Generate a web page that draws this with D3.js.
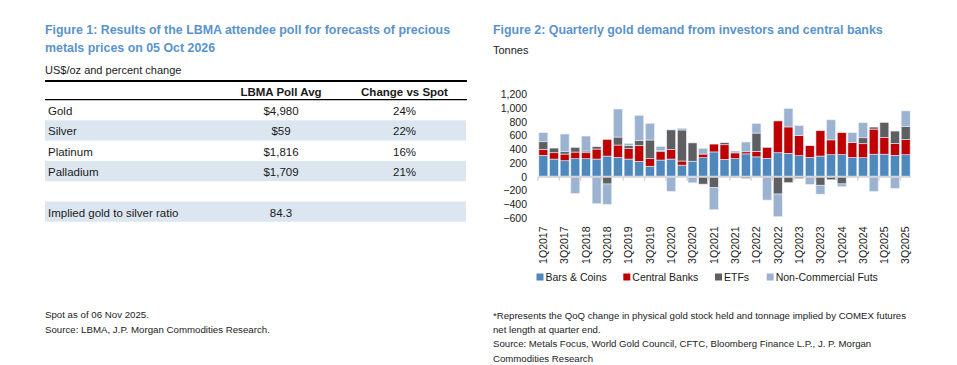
<!DOCTYPE html>
<html><head><meta charset="utf-8">
<script src="https://cdn.jsdelivr.net/npm/d3@7"></script>
<style>
html,body{margin:0;padding:0;background:#fff;}
svg{display:block;font-family:"Liberation Sans",Arial,sans-serif;}
</style></head>
<body><svg id="c" width="957" height="365"></svg>
<script>
// ---------- Figure 1 data ----------
const metals = ["Gold", "Silver", "Platinum", "Palladium"];
const pollAvg = ["$4,980", "$59", "$1,816", "$1,709"];
const changeVsSpot = ["24%", "22%", "16%", "21%"];
const ratioLabel = "Implied gold to silver ratio";
const ratioValue = "84.3";
const tableHeaders = ["", "LBMA Poll Avg", "Change vs Spot"];

// ---------- Figure 2 data ----------
const quarters = ["1Q2017","2Q2017","3Q2017","4Q2017","1Q2018","2Q2018","3Q2018","4Q2018",
  "1Q2019","2Q2019","3Q2019","4Q2019","1Q2020","2Q2020","3Q2020","4Q2020",
  "1Q2021","2Q2021","3Q2021","4Q2021","1Q2022","2Q2022","3Q2022","4Q2022",
  "1Q2023","2Q2023","3Q2023","4Q2023","1Q2024","2Q2024","3Q2024","4Q2024",
  "1Q2025","2Q2025","3Q2025"];
const barsCoins = [310,256,232,261,261,256,300,281,256,223,152,242,256,168,225,276,360,252,263,332,288,266,348,339,305,281,300,319,321,279,276,327,327,310,319];
const centralBanks = [87,92,97,97,87,146,242,179,151,232,110,121,138,60,-10,53,114,212,83,30,80,160,462,384,292,169,368,216,318,215,203,365,242,172,221];
const etfs = [111,68,34,68,25,34,-106,116,43,68,271,19,286,451,266,-108,-160,30,-15,-25,266,0,-252,-87,-27,0,-124,-45,-105,0,87,29,220,181,191];
const nonCommFuts = [131,-15,257,-242,217,-392,-296,407,34,368,242,58,-213,24,-79,82,-319,0,27,142,139,-339,-329,268,146,-111,-129,291,-38,145,218,-213,0,-169,225];
const seriesNames = ["Bars & Coins", "Central Banks", "ETFs", "Non-Commercial Futs"];
const seriesColors = ["#4f88bd", "#c00000", "#5f5f62", "#9bb2d0"];
const yTicks = [-600,-400,-200,0,200,400,600,800,1000,1200];
const xTickLabels = quarters.filter((q, i) => i % 2 === 0);

const svg = d3.select("#c");
const titleColor = "#5a93cb";
const textColor = "#1a1a1a";

// ================= Figure 1 =================
const f1 = svg.append("g");
f1.append("text").attr("x", 45).attr("y", 34).attr("fill", titleColor)
  .attr("font-size", 12.4).attr("font-weight", "bold")
  .text("Figure 1: Results of the LBMA attendee poll for forecasts of precious");
f1.append("text").attr("x", 45).attr("y", 51.5).attr("fill", titleColor)
  .attr("font-size", 12.4).attr("font-weight", "bold")
  .text("metals prices on 05 Oct 2026");
f1.append("text").attr("x", 45).attr("y", 73.5).attr("fill", textColor)
  .attr("font-size", 11).text("US$/oz and percent change");

const tLeft = 45, tRight = 466, rowH = 20.3, firstRowTop = 100;
const colX = [48, 281, 404.5];
const rows = metals.map((m, i) => [m, pollAvg[i], changeVsSpot[i]]);
rows.push(null);
rows.push([ratioLabel, ratioValue, ""]);
rows.forEach((r, i) => {
  const top = firstRowTop + i * rowH;
  if (i % 2 === 1) {
    f1.append("rect").attr("x", tLeft).attr("y", top).attr("width", tRight - tLeft)
      .attr("height", rowH).attr("fill", "#dce6f1");
  }
  if (!r) return;
  r.forEach((v, j) => {
    f1.append("text").attr("x", colX[j]).attr("y", top + 15)
      .attr("text-anchor", j === 0 ? "start" : "middle")
      .attr("font-size", 11.5).attr("fill", textColor).text(v);
  });
});
f1.append("line").attr("x1", tLeft).attr("x2", tRight + 1).attr("y1", 81).attr("y2", 81)
  .attr("stroke", "#000").attr("stroke-width", 1.8);
f1.append("line").attr("x1", tLeft).attr("x2", tRight + 1).attr("y1", 99.7).attr("y2", 99.7)
  .attr("stroke", "#000").attr("stroke-width", 1.2);
tableHeaders.forEach((h, j) => {
  if (!h) return;
  f1.append("text").attr("x", colX[j]).attr("y", 95.5).attr("text-anchor", "middle")
    .attr("font-size", 11.5).attr("font-weight", "bold").attr("fill", textColor).text(h);
});
f1.append("text").attr("x", 45).attr("y", 318.3).attr("font-size", 9.7).attr("fill", "#222")
  .text("Spot as of 06 Nov 2025.");
f1.append("text").attr("x", 45).attr("y", 332.5).attr("font-size", 9.7).attr("fill", "#222")
  .text("Source: LBMA, J.P. Morgan Commodities Research.");

// ================= Figure 2 =================
const f2 = svg.append("g");
f2.append("text").attr("x", 493).attr("y", 34).attr("fill", titleColor)
  .attr("font-size", 12.4).attr("font-weight", "bold")
  .text("Figure 2: Quarterly gold demand from investors and central banks");
f2.append("text").attr("x", 493).attr("y", 54).attr("fill", textColor)
  .attr("font-size", 11).text("Tonnes");

const x = d3.scaleBand().domain(quarters).range([538, 911]).paddingInner(0.16).paddingOuter(0.08);
const y = d3.scaleLinear().domain([-600, 1200]).range([218, 94.1]);

const table = quarters.map((q, i) => ({
  q, "Bars & Coins": barsCoins[i], "Central Banks": centralBanks[i],
  "ETFs": etfs[i], "Non-Commercial Futs": nonCommFuts[i]
}));
const stack = d3.stack().keys(seriesNames).offset(d3.stackOffsetDiverging);
const stacked = stack(table);

f2.append("g").selectAll("g").data(stacked).join("g")
  .attr("fill", (d, i) => seriesColors[i])
  .selectAll("rect").data(d => d).join("rect")
  .attr("x", d => x(d.data.q))
  .attr("width", x.bandwidth())
  .attr("y", d => y(Math.max(d[0], d[1])))
  .attr("height", d => Math.abs(y(d[0]) - y(d[1])))
  .attr("stroke", "#e6edf5").attr("stroke-width", 0.6);

// zero axis line with ticks
const y0 = y(0);
f2.append("line").attr("x1", 538).attr("x2", 911).attr("y1", y0).attr("y2", y0)
  .attr("stroke", "#d6d6d6").attr("stroke-width", 2);
const tickXs = d3.range(0, quarters.length + 1, 2).map(k => 538 + (911 - 538) * k / quarters.length);
f2.append("g").selectAll("line").data(tickXs).join("line")
  .attr("x1", d => d).attr("x2", d => d).attr("y1", y0).attr("y2", y0 + 4)
  .attr("stroke", "#d6d6d6").attr("stroke-width", 1.5);

// y axis
const yAxis = f2.append("g").attr("transform", "translate(530,0)")
  .call(d3.axisLeft(y).tickValues(yTicks).tickFormat(d3.format(",")).tickSize(0).tickPadding(3));
yAxis.select(".domain").remove();
yAxis.selectAll("text").attr("font-size", 10.5).attr("fill", textColor)
  .attr("font-family", "'Liberation Sans',Arial,sans-serif");

// x axis labels
const xAxis = f2.append("g").attr("transform", "translate(0,222.5)")
  .call(d3.axisBottom(x).tickValues(xTickLabels).tickSize(0));
xAxis.select(".domain").remove();
xAxis.selectAll("text").attr("font-size", 10.5).attr("fill", textColor)
  .attr("font-family", "'Liberation Sans',Arial,sans-serif")
  .attr("transform", "rotate(-90)").attr("x", -4).attr("y", 0).attr("dy", "0.36em")
  .style("text-anchor", "end");

// legend
const legX = [536.5, 623.3, 715, 766.7];
const leg = f2.append("g").selectAll("g").data(seriesNames).join("g")
  .attr("transform", (d, i) => `translate(${legX[i]},0)`);
leg.append("rect").attr("x", 0).attr("y", 273.5).attr("width", 7).attr("height", 7)
  .attr("fill", (d, i) => seriesColors[i]);
leg.append("text").attr("x", 9).attr("y", 281).attr("font-size", 10.5).attr("fill", textColor)
  .text(d => d);

// footnotes
const notes = [
  "*Represents the QoQ change in physical gold stock held and tonnage implied by COMEX futures",
  "net length at quarter end.",
  "Source: Metals Focus, World Gold Council, CFTC, Bloomberg Finance L.P., J. P. Morgan",
  "Commodities Research"
];
f2.append("g").selectAll("text").data(notes).join("text")
  .attr("x", 493).attr("y", (d, i) => 319 + i * 14.2)
  .attr("font-size", 9.65).attr("fill", "#222").text(d => d);
</script>
</body></html>
